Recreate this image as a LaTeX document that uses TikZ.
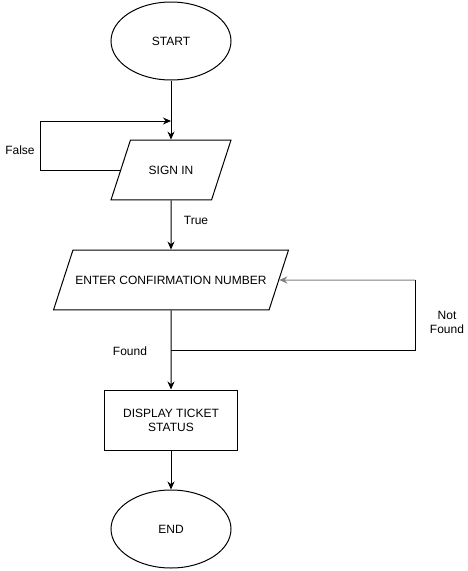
\documentclass[tikz,border=0pt]{standalone}
\usepackage{fontspec}
\setmainfont{Liberation Sans}
\usetikzlibrary{shapes.geometric,arrows.meta}

\begin{document}
\begin{tikzpicture}[x=1pt,y=-1pt,line width=1pt,font=\fontsize{12}{14}\selectfont,
  term/.style={draw,ellipse,minimum width=120pt,minimum height=78pt,inner sep=0pt},
  io/.style={draw,trapezium,trapezium left angle=72,trapezium right angle=108,
    trapezium stretches body=true,inner xsep=0pt,inner ysep=25.7pt},
  proc/.style={draw,rectangle,minimum width=133pt,minimum height=60pt,align=center},
  flow/.style={-{Stealth[length=8pt,width=7pt]}}]
  \useasboundingbox (0,0) rectangle (467,571);
  \node[term] (start) at (171,41) {START};
  \node[io,minimum width=120pt] (signin) at (171,170) {SIGN IN};
  \node[io,minimum width=235pt] (enter) at (171,280) {ENTER CONFIRMATION NUMBER};
  \node[proc] (show) at (171,420) {DISPLAY TICKET\\STATUS};
  \node[term] (end) at (171,529) {END};
  \coordinate (loopin) at (171,121); \coordinate (split) at (171,350);
  % labels
  \node (lfalse) at (20,150) {False};
  \node (ltrue) at (196,220) {True};
  \node (lfound) at (130,351) {Found};
  \node[align=center] (lnotfound) at (447,322) {Not\\Found};
  % connectors
  \draw[flow] (start) -- (signin);
  \draw[flow] (signin.west) -- ++(-80,0) |- (loopin);
  \draw[flow] (signin) -- (enter);
  \draw[flow] (enter) -- (show);
  \draw (split) -- ++(244,0) -- ++(0,-70) coordinate (nfcorner);
  \draw[flow,gray] (nfcorner) -- (enter.east);
  \draw[flow] (show) -- (end);
\end{tikzpicture}
\end{document}
